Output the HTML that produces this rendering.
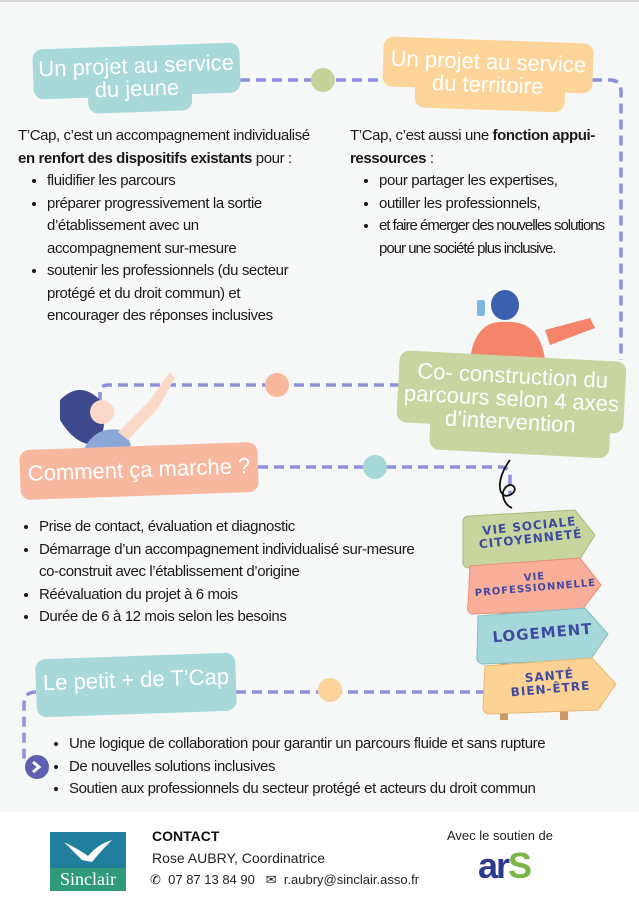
<!DOCTYPE html>
<html><head><meta charset="utf-8">
<style>
body{margin:0;width:639px;height:910px;position:relative;overflow:hidden;background:#fff;font-family:"Liberation Sans",sans-serif;}
#bg{position:absolute;left:0;top:0;width:639px;height:812px;background:#f6f7f7;border-top:2px solid #d6d6d6;box-sizing:border-box}
.a{position:absolute}
.box{position:absolute;color:#fff;text-align:center;line-height:1.05}
.t{position:absolute;font-size:15px;color:#1a1a1a;line-height:22.5px;letter-spacing:-0.4px;white-space:nowrap}
ul{margin:0;padding-left:29px}
li{padding-left:0}
.sign{position:absolute;color:#3f4aa0;font-weight:bold;text-align:center;font-family:"DejaVu Sans",sans-serif;letter-spacing:1px;line-height:1.1}
</style></head><body>
<div id="bg"></div>
<svg class="a" style="left:0;top:0" width="639" height="910">
<g fill="none" stroke="#8e90d9" stroke-width="3.5" stroke-dasharray="10,6">
<path d="M240 80 H610 Q621 80 621 92 V360"/>
<path d="M400 385 H108 Q100 385 100 393 V410"/>
<path d="M258 467 H500 Q510 467 510 477 V495"/>
<path d="M236 692 H490"/>
<path d="M36 692 Q24 692 24 704 V760"/>
</g>
<circle cx="323" cy="80" r="12" fill="#c5d39b"/>
<circle cx="277" cy="385" r="12" fill="#f9b89c"/>
<circle cx="375" cy="467" r="12" fill="#a7d8d8"/>
<circle cx="330" cy="690" r="12" fill="#fdd59a"/>
<circle cx="37" cy="767" r="12" fill="#5e5fae"/>
<path d="M33 762 L39 767 L33 772" fill="none" stroke="#fff" stroke-width="3"/>
<path d="M510 460 C495 480,498 500,510 495 C520 490,512 480,505 488 C500 495,505 505,512 508" fill="none" stroke="#111" stroke-width="1.8"/>
<!-- boy -->
<ellipse cx="505" cy="305" rx="14" ry="15" fill="#3c5fb0"/>
<path d="M470 360 Q475 320 505 322 Q540 320 545 360 Z" fill="#f4846a"/>
<path d="M545 330 L590 318 L595 328 L550 345 Z" fill="#f4846a"/>
<rect x="477" y="300" width="8" height="16" rx="2" fill="#7fb7e0"/>
<!-- girl -->
<path d="M60 400 Q80 380 100 400 Q110 430 95 445 Q75 445 60 420 Z" fill="#3d4a8e"/>
<circle cx="102" cy="412" r="12" fill="#fbd9c8"/>
<path d="M80 460 Q90 425 120 430 Q135 440 130 460 Z" fill="#8aa7d8"/>
<path d="M118 432 L150 400 L170 372 L175 378 L158 408 L128 440 Z" fill="#fbd9c8"/>
<!-- signs -->
<rect x="500" y="560" width="8" height="160" fill="#c99966"/>
<rect x="560" y="560" width="8" height="160" fill="#c99966"/>
<path d="M463 522 Q463 516 470 516 L575 510 L595 535 L578 562 L470 568 Q462 568 463 560 Z" fill="#c8d59e" stroke="#a9b981"/>
<path d="M470 566 L580 558 L601 585 L582 610 L472 614 Q466 612 468 605 Z" fill="#f8ae98" stroke="#e3907a"/>
<path d="M478 616 L585 608 L608 634 L590 660 L482 664 Q476 662 477 656 Z" fill="#a6d8d9" stroke="#82bfc0"/>
<path d="M485 666 L592 658 L616 684 L598 710 L488 714 Q482 712 483 706 Z" fill="#fdd395" stroke="#e7b873"/>
</svg>
<div class="box" style="left:33px;top:46px;width:207px;height:50px;background:#a8d8d8;border-radius:10px;transform:rotate(-2deg)"></div>
<div class="box" style="left:88px;top:80px;width:104px;height:32px;background:#a8d8d8;border-radius:10px;transform:rotate(-2deg)"></div>
<div class="box" style="left:33px;top:54px;width:207px;font-size:22px;transform:rotate(-2deg)">Un projet au service<br>du jeune</div>
<div class="box" style="left:383px;top:40px;width:210px;height:50px;background:#fdd59a;border-radius:10px;transform:rotate(2deg)"></div>
<div class="box" style="left:415px;top:75px;width:150px;height:35px;background:#fdd59a;border-radius:10px;transform:rotate(2deg)"></div>
<div class="box" style="left:383px;top:50px;width:210px;font-size:22px;transform:rotate(2deg)">Un projet au service<br>du territoire</div>
<div class="t" style="left:18px;top:125px;width:320px">T’Cap, c’est un accompagnement individualisé<br><b>en renfort des dispositifs existants</b> pour :
<ul><li>fluidifier les parcours</li><li>préparer progressivement la sortie<br>d’établissement avec un<br>accompagnement sur-mesure</li><li>soutenir les professionnels (du secteur<br>protégé et du droit commun) et<br>encourager des réponses inclusives</li></ul></div>
<div class="t" style="left:350px;top:125px;width:275px">T’Cap, c’est aussi une <b>fonction appui-<br>ressources</b> :
<ul><li>pour partager les expertises,</li><li>outiller les professionnels,</li><li style="letter-spacing:-1px">et faire émerger des nouvelles solutions<br>pour une société plus inclusive.</li></ul></div>
<div class="box" style="left:398px;top:356px;width:227px;height:72px;background:#c9d5a0;border-radius:10px;transform:rotate(3deg)"></div>
<div class="box" style="left:430px;top:410px;width:180px;height:44px;background:#c9d5a0;border-radius:10px;transform:rotate(3deg)"></div>
<div class="box" style="left:398px;top:364px;width:227px;font-size:22px;transform:rotate(3deg)">Co- construction du<br>parcours selon 4 axes<br>d’intervention</div>
<div class="box" style="left:20px;top:446px;width:238px;height:50px;background:#f8b79f;border-radius:10px;transform:rotate(-2deg)"></div>
<div class="box" style="left:20px;top:458px;width:238px;font-size:22px;transform:rotate(-2deg)">Comment ça marche ?</div>
<div class="t" style="left:10px;top:516px;width:440px"><ul><li>Prise de contact, évaluation et diagnostic</li><li>Démarrage d’un accompagnement individualisé sur-mesure<br>co-construit avec l’établissement d’origine</li><li>Réévaluation du projet à 6 mois</li><li>Durée de 6 à 12 mois selon les besoins</li></ul></div>
<div class="sign" style="left:470px;top:520px;width:120px;font-size:12px;transform:rotate(-6deg)">VIE SOCIALE<br>CITOYENNETÉ</div>
<div class="sign" style="left:470px;top:572px;width:130px;font-size:10px;transform:rotate(-5deg)">VIE<br>PROFESSIONNELLE</div>
<div class="sign" style="left:480px;top:625px;width:125px;font-size:15px;transform:rotate(-5deg)">LOGEMENT</div>
<div class="sign" style="left:490px;top:670px;width:120px;font-size:12px;transform:rotate(-5deg)">SANTÉ<br>BIEN-ÊTRE</div>
<div class="box" style="left:36px;top:656px;width:200px;height:58px;background:#a8d8d8;border-radius:10px;transform:rotate(-2deg)"></div>
<div class="box" style="left:36px;top:668px;width:200px;font-size:22px;transform:rotate(-2deg)">Le petit + de T’Cap</div>
<div class="t" style="left:40px;top:733px;width:560px"><ul><li>Une logique de collaboration pour garantir un parcours fluide et sans rupture</li><li>De nouvelles solutions inclusives</li><li>Soutien aux professionnels du secteur protégé et acteurs du droit commun</li></ul></div>
<div class="a" style="left:50px;top:832px;width:76px;height:36px;background:#1f7f9c"></div>
<div class="a" style="left:50px;top:868px;width:76px;height:23px;background:#2f9a7a;color:#fff;font-family:'Liberation Serif',serif;font-size:18px;text-align:center;line-height:22px">Sinclair</div>
<svg class="a" style="left:60px;top:836px" width="56" height="32"><path d="M4 6 Q20 14 28 20 Q38 8 52 4 Q40 16 32 26 L22 24 Z" fill="#fff"/></svg>
<div class="a" style="left:152px;top:828px;font-size:14px;font-weight:bold;color:#111">CONTACT</div>
<div class="a" style="left:152px;top:850px;font-size:14px;color:#222">Rose AUBRY, Coordinatrice</div>
<div class="a" style="left:150px;top:872px;font-size:13px;color:#222">✆ &nbsp;07 87 13 84 90 &nbsp; ✉ &nbsp;r.aubry@sinclair.asso.fr</div>
<div class="a" style="left:447px;top:828px;font-size:13px;color:#222">Avec le soutien de</div>
<div class="a" style="left:478px;top:845px;font-size:36px;font-weight:bold;color:#2b3a8c;letter-spacing:-2px">ar<span style="color:#7ab648">S</span></div>
</body></html>
